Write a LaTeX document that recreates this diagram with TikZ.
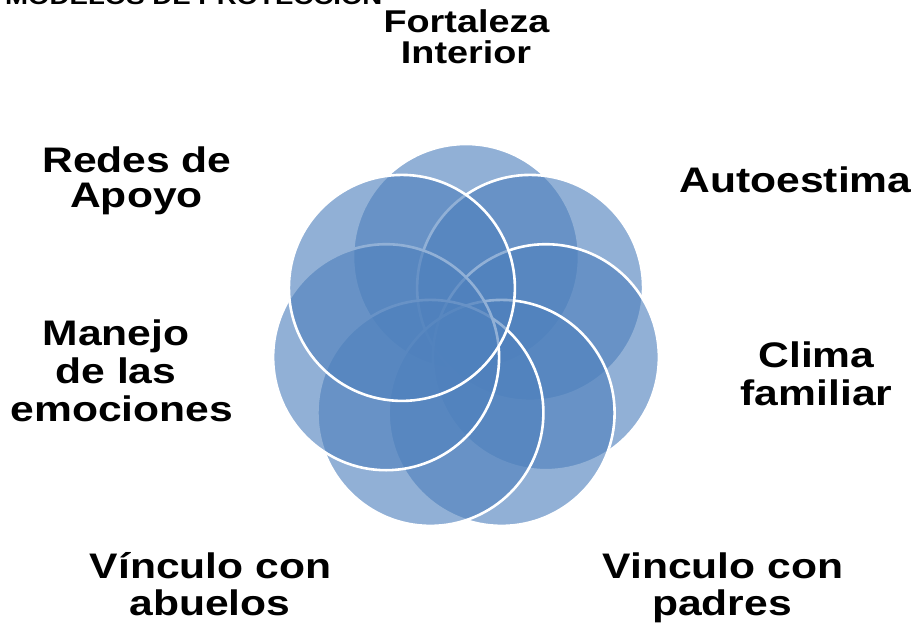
\documentclass[tikz,border=0pt]{standalone}
\usepackage{fontspec}
\setmainfont{Liberation Sans}[FakeStretch=1.2]
\definecolor{petalblue}{RGB}{79,129,189}
\begin{document}
\begin{tikzpicture}[x=1pt,y=-1pt,
  petal/.style={circle, inner sep=0pt, minimum size=226pt, fill=petalblue, fill opacity=0.62, draw=white, line width=2.6pt},
  lbl/.style={anchor=base, inner sep=0pt, text=black, font=\bfseries\fontsize{35.5}{40}\selectfont},
  lblsmall/.style={lbl, font=\bfseries\fontsize{31.5}{36}\selectfont}]
\useasboundingbox (0,0) rectangle (917,629);
\clip (0,0) rectangle (917,629);
\fill[white] (0,0) rectangle (917,629);
% title, cut off at the top edge
\node[anchor=base west, inner sep=0pt, font=\bfseries\fontsize{23}{27}\selectfont] (title) at (5,5) {MODELOS DE PROTECCIÓN};
% petals, in drawing order
\node[petal] (fortaleza) at (466,257) {};
\node[petal] (autoestima) at (530.1,287.9) {};
\node[petal] (clima) at (545.9,357.2) {};
\node[petal] (padres) at (501.6,412.9) {};
\node[petal] (abuelos) at (430.4,412.9) {};
\node[petal] (manejo) at (386.1,357.2) {};
\node[petal] (redes) at (401.9,287.9) {};
% labels
\node[lblsmall] (t1a) at (466.5,32) {Fortaleza};
\node[lblsmall] (t1b) at (466,63) {Interior};
\node[lbl] (t2) at (795.5,192) {Autoestima};
\node[lbl] (t3a) at (816.5,367) {Clima};
\node[lbl] (t3b) at (816.5,405) {familiar};
\node[lbl] (t4a) at (723,578) {Vinculo con};
\node[lbl] (t4b) at (722,615) {padres};
\node[lbl] (t5a) at (210.5,578) {Vínculo con};
\node[lbl] (t5b) at (210,615) {abuelos};
\node[lbl] (t6a) at (116,345) {Manejo};
\node[lbl] (t6b) at (116,383) {de las};
\node[lbl] (t6c) at (122,421) {emociones};
\node[lbl] (t7a) at (137,172) {Redes de};
\node[lbl] (t7b) at (136.5,207) {Apoyo};
\end{tikzpicture}
\end{document}
